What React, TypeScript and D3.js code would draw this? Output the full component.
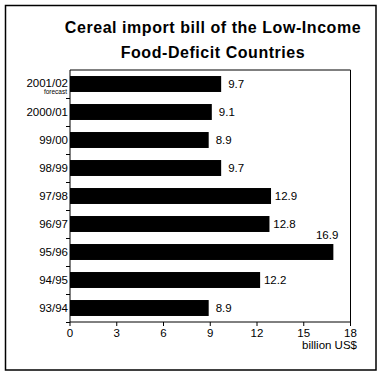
import * as d3 from "d3";
import React from "react";

const titleLines = ["Cereal import bill of the Low-Income", "Food-Deficit Countries"];
const categories = ["2001/02", "2000/01", "99/00", "98/99", "97/98", "96/97", "95/96", "94/95", "93/94"];
const values = [9.7, 9.1, 8.9, 9.7, 12.9, 12.8, 16.9, 12.2, 8.9];
const xTicks = [0, 3, 6, 9, 12, 15, 18];
const forecastNote = "forecast";
const unitLabel = "billion US$";

const width = 380;
const height = 374;
const plot = { left: 70, right: 350.5, top: 70, bottom: 322 };
const font = "'Liberation Sans', Arial, sans-serif";

export default function App() {
  const xScale = d3.scaleLinear().domain([0, 18]).range([plot.left, plot.right]);
  const yScale = d3.scaleBand()
    .domain(categories)
    .range([plot.top, plot.bottom])
    .paddingInner(0.43)
    .paddingOuter(0.215);
  const step = yScale.step();
  const bw = yScale.bandwidth();

  // band boundaries for the left axis ticks
  const boundaries = d3.range(1, categories.length + 1).map((i) => plot.top + i * step);

  return (
    <svg width={width} height={height} style={{ position: "absolute", left: 0, top: 0, background: "#fff" }}>
      <rect x={5.5} y={5.5} width={370.5} height={364.5} fill="#fff" stroke="#000" strokeWidth={1.5} />

      {titleLines.map((t, i) => (
        <text key={i} x={213} y={33 + i * 24.5} textAnchor="middle" fontFamily={font}
          fontWeight="bold" fontSize={16} letterSpacing={0.55} fill="#000">{t}</text>
      ))}

      {/* plot area frame */}
      <path d={`M${plot.left},${plot.top}H${plot.right}V${plot.bottom}`} fill="none" stroke="#000" strokeWidth={1} />

      {categories.map((c, i) => {
        const y0 = yScale(c) as number;
        const v = values[i];
        const overflow = xScale(v) + 25 > plot.right;
        return (
          <g key={c}>
            <rect x={xScale(0)} y={y0} width={xScale(v) - xScale(0)} height={bw} fill="#000" />
            {overflow ? (
              <text x={xScale(v) + 5} y={y0 - 5} textAnchor="end" fontFamily={font} fontSize={11.5}>{v.toFixed(1)}</text>
            ) : (
              <text x={xScale(v) + 15} y={y0 + bw / 2 + 4} textAnchor="middle" fontFamily={font} fontSize={11.5}>{v.toFixed(1)}</text>
            )}
            <text x={68} y={y0 + bw / 2 + (i === 0 ? 2.5 : 4)} textAnchor="end" fontFamily={font} fontSize={11.5}>{c}</text>
            {i === 0 && (
              <text x={67} y={y0 + bw / 2 + 9.5} textAnchor="end" fontFamily={font} fontSize={6.5}>{forecastNote}</text>
            )}
          </g>
        );
      })}

      {/* y axis */}
      <line x1={plot.left} x2={plot.left} y1={plot.top} y2={plot.bottom} stroke="#000" />
      {boundaries.map((b, i) => (
        <line key={i} x1={plot.left - 4} x2={plot.left} y1={Math.round(b) + 0.5} y2={Math.round(b) + 0.5} stroke="#000" />
      ))}

      {/* x axis */}
      <line x1={plot.left} x2={plot.right} y1={plot.bottom} y2={plot.bottom} stroke="#000" />
      {xTicks.map((t) => (
        <g key={t}>
          <line x1={xScale(t)} x2={xScale(t)} y1={plot.bottom} y2={plot.bottom + 4} stroke="#000" />
          <text x={xScale(t)} y={337} textAnchor="middle" fontFamily={font} fontSize={11.5}>{t}</text>
        </g>
      ))}
      <text x={357} y={349} textAnchor="end" fontFamily={font} fontSize={11.5}>{unitLabel}</text>
    </svg>
  );
}
